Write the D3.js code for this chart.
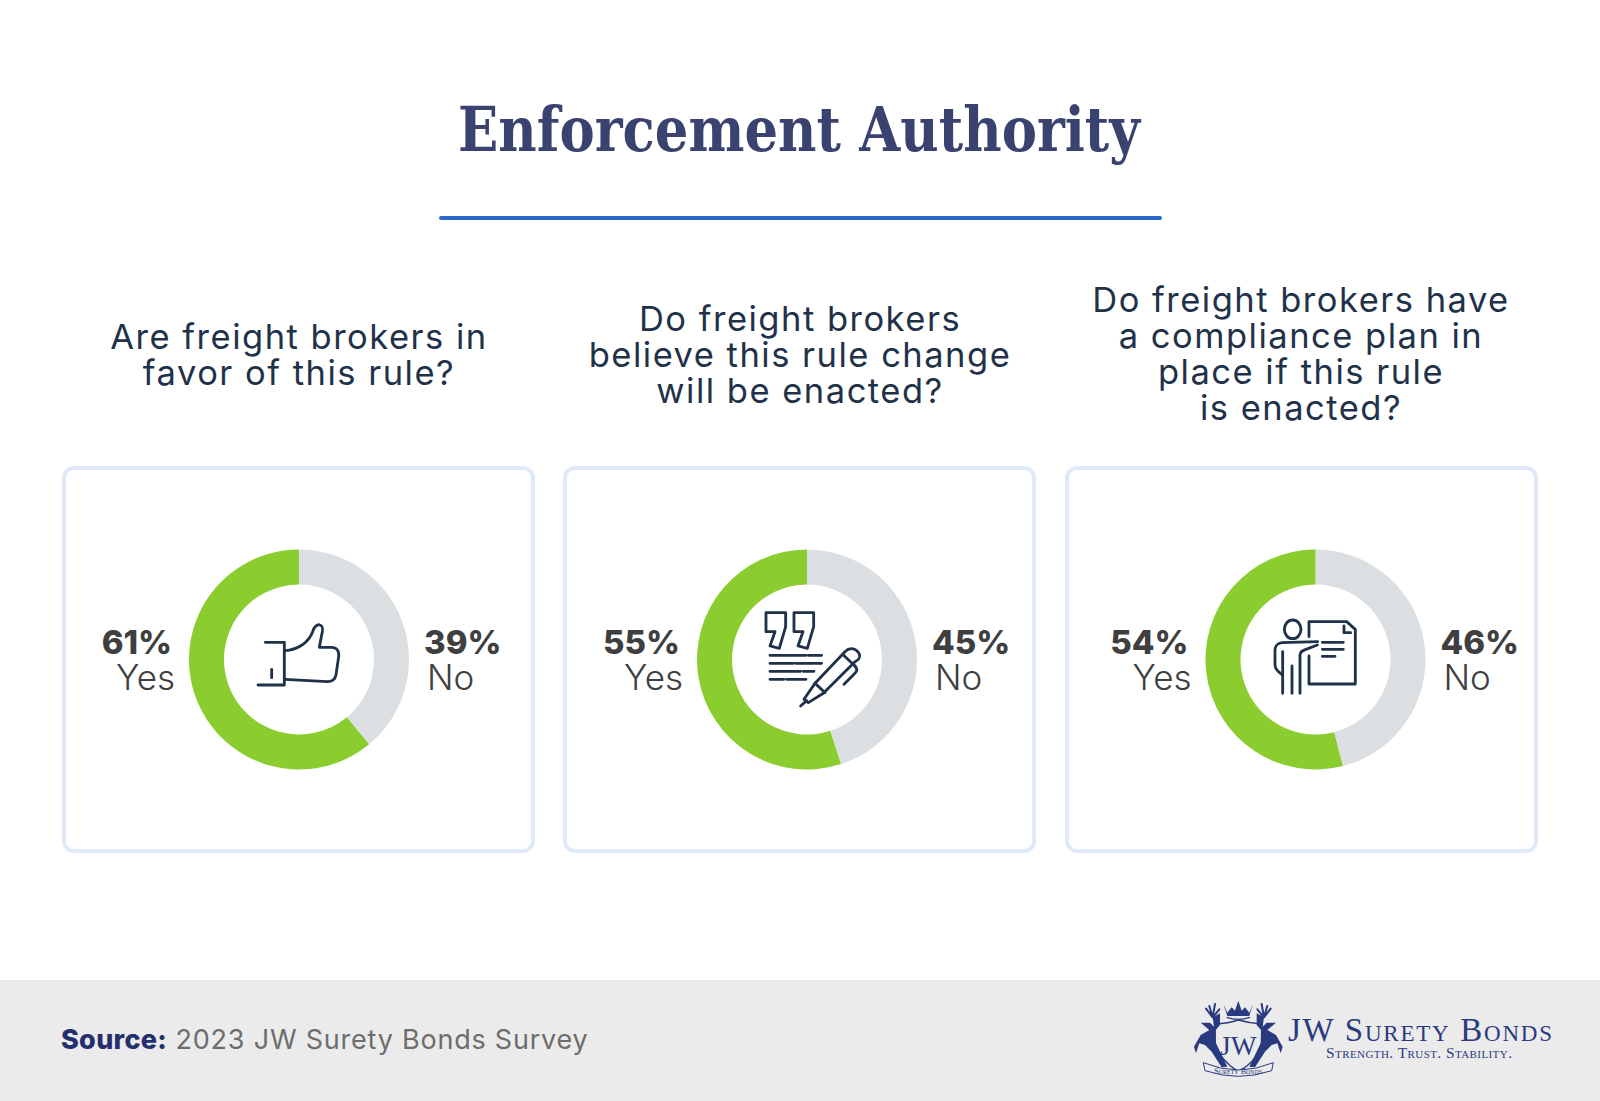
<!DOCTYPE html>
<html>
<head>
<meta charset="utf-8">
<script src="https://cdn.jsdelivr.net/npm/d3@7"></script>
<style>
	html, body { margin: 0; padding: 0; background: #fff; }
	svg { display: block; }
	text { font-family: Inter, "Noto Sans", sans-serif; }
</style>
</head>
<body>
<script>
// values
var questions = [
	["Are freight brokers in", "favor of this rule?"],
	["Do freight brokers", "believe this rule change", "will be enacted?"],
	["Do freight brokers have", "a compliance plan in", "place if this rule", "is enacted?"]
];
var yesValues = [61, 55, 54];
var noValues = [39, 45, 46];
var answerLabels = ["Yes", "No"];

var w = 1600,
	h = 1101,
	cardX = [64, 565, 1067],
	donutX = [299, 807, 1315.5],
	questionX = [299, 800, 1301],
	questionBase = [349, 331, 312],
	donutY = 659.5,
	outerR = 110,
	innerR = 75,
	navy = "#1f3249",
	textDark = "#3f3f3f";

var svg = d3.select("body")
	.append("svg")
	.attr("width", w)
	.attr("height", h);

svg.append("rect").attr("width", w).attr("height", h).attr("fill", "#fff");

// title and rule
svg.append("text")
	.attr("x", 799).attr("y", 151)
	.attr("text-anchor", "middle")
	.attr("textLength", 682)
	.attr("lengthAdjust", "spacingAndGlyphs")
	.style("font-family", "'DejaVu Serif', serif")
	.style("font-weight", 700)
	.style("font-size", "62px")
	.attr("fill", "#3a4270")
	.text("Enforcement Authority");

svg.append("line")
	.attr("x1", 441).attr("x2", 1160)
	.attr("y1", 218).attr("y2", 218)
	.attr("stroke", "#2a69c8")
	.attr("stroke-width", 4)
	.attr("stroke-linecap", "round");

// questions
questions.forEach(function(lines, i){
	svg.append("g").selectAll("text")
		.data(lines)
		.enter()
		.append("text")
		.attr("x", questionX[i])
		.attr("y", (d, k) => questionBase[i] + k * 36)
		.attr("text-anchor", "middle")
		.style("font-size", "34.5px")
		.style("letter-spacing", "1.5px")
		.attr("fill", navy)
		.text(d => d);
});

// donuts
var pie = d3.pie().sort(null).value(d => d.value);
var arc = d3.arc().innerRadius(innerR).outerRadius(outerR);
var sliceColor = d3.scaleOrdinal().domain(answerLabels).range(["#8bcc2f", "#dcdfe2"]);

yesValues.forEach(function(yes, i){
	svg.append("rect")
		.attr("x", cardX[i]).attr("y", 468)
		.attr("width", 469).attr("height", 383)
		.attr("rx", 10)
		.attr("fill", "#fff")
		.attr("stroke", "#e0e9f8")
		.attr("stroke-width", 4);

	var g = svg.append("g").attr("transform", "translate(" + donutX[i] + "," + donutY + ")");

	// No comes first so that it runs clockwise from 12 o'clock
	var slices = [
		{ name: answerLabels[1], value: noValues[i] },
		{ name: answerLabels[0], value: yes }
	];
	g.selectAll("path")
		.data(pie(slices))
		.enter()
		.append("path")
		.attr("d", arc)
		.attr("fill", d => sliceColor(d.data.name));

	g.append("text")
		.attr("x", -127).attr("y", -5.5)
		.attr("text-anchor", "end")
		.style("font-size", "33px").style("font-weight", 800)
		.attr("fill", textDark)
		.text(yes + "%");
	g.append("text")
		.attr("x", -124).attr("y", 30.5)
		.attr("text-anchor", "end")
		.style("font-size", "35px").style("font-weight", 300)
		.attr("fill", textDark)
		.text(answerLabels[0]);
	g.append("text")
		.attr("x", 125).attr("y", -5.5)
		.style("font-size", "33px").style("font-weight", 800)
		.attr("fill", textDark)
		.text(noValues[i] + "%");
	g.append("text")
		.attr("x", 128).attr("y", 30.5)
		.style("font-size", "35px").style("font-weight", 300)
		.attr("fill", textDark)
		.text(answerLabels[1]);
});

// icons, sketched at 3x from the picture
function icon(x, y, paths){
	svg.append("g")
		.attr("transform", "translate(" + x + "," + y + ") scale(0.3333)")
		.attr("fill", "none")
		.attr("stroke", navy)
		.attr("stroke-width", 8.5)
		.attr("stroke-linecap", "round")
		.attr("stroke-linejoin", "round")
		.selectAll("path")
		.data(paths)
		.enter()
		.append("path")
		.attr("d", d => d);
}

icon(240, 600, [
	"M76,127H133V255H54",
	"M95,208V233",
	"M135,152C170,150 205,130 218,95C222,80 232,72 240,75C250,78 248,95 245,105L238,142H275C290,142 298,152 296,170L288,225C285,240 275,245 262,245L135,238"
]);

icon(680, 580, [
	"M258,98H317V140L298,205L270,198L285,155H258Z",
	"M342,98H401V140L382,205L354,198L369,155H342Z",
	"M270,226H378M385,226H425",
	"M270,250H340M347,250H425",
	"M270,274H362M370,274H402",
	"M270,298H312M320,298H378",
	"M362,378L380,362",
	"M372,358L405,310L495,215C510,200 530,205 538,222C542,235 535,240 525,245L430,340L385,368Z",
	"M405,310L435,338",
	"M490,225L525,258",
	"M525,258C535,270 530,275 520,285L492,313"
]);

icon(1230, 590, [
	"M163,118a25,28 0 1,0 50,0a25,28 0 1,0 -50,0",
	"M263,155L155,158C140,160 135,172 135,180V225C135,240 148,248 158,255V310",
	"M158,185V255",
	"M186,228V310",
	"M210,310V195C210,185 218,182 228,178L262,165",
	"M237,140V95H350L376,118V282H237V198",
	"M342,108V128H362",
	"M277,157H340M277,178H340M277,199H315"
]);

// footer
var footerGrey = "#ebebeb";
svg.append("rect")
	.attr("x", 0).attr("y", 980)
	.attr("width", w).attr("height", h - 980)
	.attr("fill", footerGrey);

var source = svg.append("text")
	.attr("x", 61).attr("y", 1049)
	.style("font-size", "27px");
source.append("tspan")
	.style("font-weight", 800)
	.style("letter-spacing", "0.3px")
	.attr("fill", "#262f6e")
	.text("Source:");
source.append("tspan")
	.style("letter-spacing", "0.78px")
	.attr("fill", "#6d6d6d")
	.text(" 2023 JW Surety Bonds Survey");

// logo
var logoBlue = "#2a3a80";
var logo = svg.append("g");

logo.append("text")
	.attr("x", 1288).attr("y", 1041)
	.attr("textLength", 264)
	.attr("lengthAdjust", "spacing")
	.style("font-family", "'Liberation Serif', serif")
	.style("font-variant", "small-caps")
	.style("font-size", "33px")
	.attr("fill", logoBlue)
	.text("JW Surety Bonds");

logo.append("text")
	.attr("x", 1326).attr("y", 1058)
	.attr("textLength", 186)
	.attr("lengthAdjust", "spacing")
	.style("font-family", "'Liberation Serif', serif")
	.style("font-variant", "small-caps")
	.style("font-size", "15.5px")
	.attr("fill", logoBlue)
	.text("Strength. Trust. Stability.");

var crest = logo.append("g")
	.attr("transform", "translate(1170,980) scale(0.3333)");

// shield
crest.append("path")
	.attr("d", "M135,132Q175,130 205,120Q240,130 275,132L275,190Q265,240 205,275Q150,240 135,190Z")
	.attr("fill", footerGrey)
	.attr("stroke", logoBlue)
	.attr("stroke-width", 4);

// stags: body then antlers
crest.append("path")
	.attr("d", "M150,100L128,112L132,140L120,128L92,128L118,150L92,165L72,200L78,220L88,190L105,195L125,215L155,262L172,260L138,190L137,150L150,135Z")
	.attr("fill", logoBlue);
crest.append("path")
	.attr("d", "M260,100L282,112L278,140L290,128L318,128L292,150L318,165L338,200L332,220L322,190L305,195L285,215L255,262L238,260L272,190L273,150L260,135Z")
	.attr("fill", logoBlue);
crest.append("path")
	.attr("d", "M128,112L108,86M128,112L118,78M128,112L135,72M128,112L148,88M282,112L302,86M282,112L292,78M282,112L275,72M282,112L262,88")
	.attr("fill", "none")
	.attr("stroke", logoBlue)
	.attr("stroke-width", 6)
	.attr("stroke-linecap", "round");

// crown
crest.append("path")
	.attr("d", "M160,72L172,98L185,82L195,92L205,62L215,92L225,82L238,98L248,72L238,108H172Z")
	.attr("fill", logoBlue);
crest.append("path")
	.attr("d", "M170,112Q205,124 240,112")
	.attr("fill", "none")
	.attr("stroke", logoBlue)
	.attr("stroke-width", 4);

crest.append("text")
	.attr("x", 205).attr("y", 225)
	.attr("text-anchor", "middle")
	.style("font-family", "'Liberation Serif', serif")
	.style("font-size", "82px")
	.attr("fill", logoBlue)
	.text("JW");

// banner
crest.append("path")
	.attr("d", "M100,248Q205,292 310,248L305,272Q205,306 105,272Z")
	.attr("fill", footerGrey)
	.attr("stroke", logoBlue)
	.attr("stroke-width", 3);
crest.append("text")
	.attr("x", 205).attr("y", 283)
	.attr("text-anchor", "middle")
	.style("font-family", "'Liberation Serif', serif")
	.style("font-variant", "small-caps")
	.style("font-size", "24px")
	.attr("fill", logoBlue)
	.text("Surety Bonds");
</script>
</body>
</html>
